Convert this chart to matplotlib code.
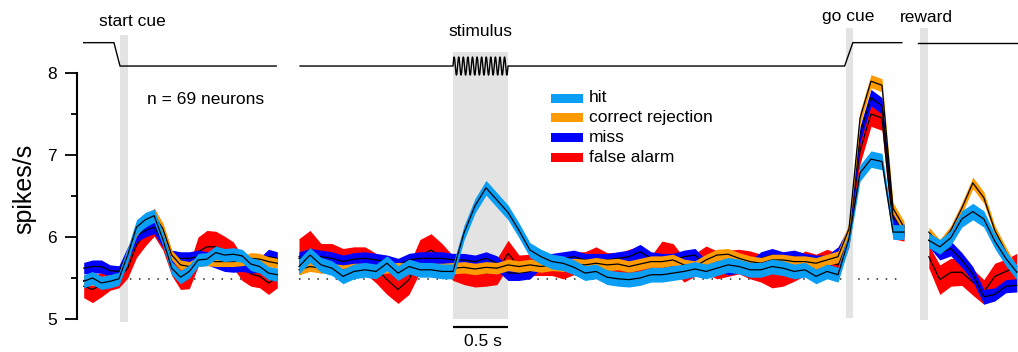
import numpy as np
import matplotlib.pyplot as plt
from matplotlib.patches import Rectangle

plt.rcParams['font.family'] = ['Liberation Sans', 'DejaVu Sans']

# ---- data: population mean firing rate (spikes/s) and SEM by trial outcome ----
# three alignments: start cue, stimulus onset (runs on past the go cue), reward
t_start = np.linspace(-0.33, 1.43, 23)
t_stim = np.linspace(-1.4, 4.1, 56)
t_reward = np.linspace(0.08, 0.88, 9)
stim_dur = 0.5
go_cue_t = 3.6
baseline = 5.49
n_neurons = 69

outcomes = ["hit", "correct rejection", "miss", "false alarm"]
colors = ["#0a9ef5", "#ff9a00", "#0000ff", "#ff0000"]

hit_start = [5.46, 5.50, 5.44, 5.46, 5.49, 5.78, 6.12, 6.21, 6.26, 5.97, 5.62, 5.51,
             5.58, 5.72, 5.73, 5.81, 5.78, 5.79, 5.77, 5.67, 5.64, 5.56, 5.54]
cr_start = [5.47, 5.47, 5.46, 5.48, 5.50, 5.80, 6.08, 6.22, 6.27, 6.10, 5.78, 5.66,
            5.64, 5.70, 5.71, 5.70, 5.70, 5.70, 5.71, 5.74, 5.73, 5.70, 5.68]
miss_start = [5.62, 5.64, 5.64, 5.59, 5.58, 5.80, 6.02, 6.08, 6.12, 5.96, 5.76, 5.74,
              5.74, 5.76, 5.74, 5.70, 5.66, 5.65, 5.66, 5.64, 5.66, 5.76, 5.74]
fa_start = [5.40, 5.36, 5.42, 5.48, 5.50, 5.62, 5.90, 6.05, 6.18, 6.00, 5.68, 5.50,
            5.52, 5.82, 5.88, 5.88, 5.84, 5.78, 5.62, 5.55, 5.52, 5.44, 5.50]

hit_start_sem = [0.08, 0.08, 0.08, 0.08, 0.08, 0.09, 0.09, 0.09, 0.08, 0.08, 0.08, 0.08,
                 0.08, 0.08, 0.08, 0.08, 0.08, 0.08, 0.08, 0.08, 0.08, 0.08, 0.08]
cr_start_sem = [0.06, 0.06, 0.06, 0.06, 0.06, 0.07, 0.07, 0.07, 0.07, 0.07, 0.06, 0.06,
                0.06, 0.06, 0.06, 0.06, 0.06, 0.06, 0.06, 0.07, 0.07, 0.06, 0.06]
miss_start_sem = [0.07, 0.08, 0.08, 0.07, 0.07, 0.08, 0.08, 0.08, 0.08, 0.08, 0.08, 0.08,
                  0.08, 0.08, 0.08, 0.08, 0.08, 0.08, 0.08, 0.08, 0.09, 0.09, 0.08]
fa_start_sem = [0.14, 0.16, 0.15, 0.13, 0.12, 0.12, 0.15, 0.16, 0.17, 0.16, 0.15, 0.14,
                0.15, 0.18, 0.20, 0.19, 0.17, 0.16, 0.15, 0.15, 0.14, 0.14, 0.12]

hit_stim = [5.64, 5.78, 5.66, 5.62, 5.52, 5.58, 5.60, 5.58, 5.68, 5.56,
            5.64, 5.60, 5.60, 5.58, 5.58, 6.05, 6.38, 6.60, 6.45, 6.30,
            6.08, 5.84, 5.76, 5.70, 5.68, 5.63, 5.56, 5.58, 5.51, 5.49,
            5.48, 5.50, 5.54, 5.54, 5.56, 5.58, 5.61, 5.58, 5.62, 5.66,
            5.64, 5.60, 5.60, 5.64, 5.62, 5.58, 5.60, 5.52, 5.58, 5.54,
            5.98, 6.78, 6.95, 6.92, 6.06, 6.06]
cr_stim = [5.60, 5.64, 5.62, 5.62, 5.60, 5.62, 5.62, 5.60, 5.62, 5.63,
           5.62, 5.61, 5.62, 5.62, 5.62, 5.63, 5.61, 5.63, 5.62, 5.66,
           5.64, 5.66, 5.64, 5.66, 5.65, 5.67, 5.66, 5.68, 5.66, 5.67,
           5.64, 5.67, 5.70, 5.70, 5.72, 5.66, 5.64, 5.72, 5.78, 5.79,
           5.74, 5.70, 5.68, 5.72, 5.72, 5.70, 5.70, 5.68, 5.72, 5.76,
           6.10, 7.45, 7.90, 7.85, 6.35, 6.12]
miss_stim = [5.74, 5.78, 5.76, 5.74, 5.70, 5.73, 5.74, 5.72, 5.70, 5.66,
             5.72, 5.74, 5.74, 5.74, 5.72, 5.72, 5.70, 5.74, 5.68, 5.56,
             5.56, 5.58, 5.70, 5.72, 5.74, 5.76, 5.72, 5.72, 5.72, 5.74,
             5.76, 5.82, 5.74, 5.72, 5.72, 5.76, 5.78, 5.64, 5.66, 5.62,
             5.64, 5.64, 5.74, 5.78, 5.74, 5.76, 5.72, 5.70, 5.70, 5.80,
             6.05, 7.25, 7.70, 7.60, 6.25, 6.08]
fa_stim = [5.76, 5.84, 5.74, 5.76, 5.72, 5.74, 5.72, 5.62, 5.48, 5.36,
           5.48, 5.77, 5.84, 5.76, 5.62, 5.58, 5.56, 5.56, 5.58, 5.80,
           5.64, 5.66, 5.66, 5.66, 5.62, 5.68, 5.66, 5.72, 5.66, 5.66,
           5.70, 5.72, 5.62, 5.78, 5.76, 5.60, 5.66, 5.72, 5.66, 5.68,
           5.70, 5.66, 5.62, 5.56, 5.56, 5.60, 5.68, 5.62, 5.70, 5.66,
           6.00, 7.05, 7.50, 7.45, 6.10, 6.05]

hit_stim_sem = [0.09, 0.09, 0.09, 0.09, 0.09, 0.09, 0.09, 0.09, 0.09, 0.09,
                0.09, 0.09, 0.09, 0.09, 0.09, 0.09, 0.09, 0.09, 0.09, 0.09,
                0.09, 0.09, 0.09, 0.09, 0.09, 0.09, 0.09, 0.09, 0.09, 0.09,
                0.09, 0.09, 0.09, 0.09, 0.09, 0.09, 0.09, 0.09, 0.09, 0.09,
                0.09, 0.09, 0.09, 0.09, 0.09, 0.09, 0.09, 0.09, 0.09, 0.09,
                0.09, 0.10, 0.10, 0.10, 0.09, 0.09]
cr_stim_sem = [0.06, 0.06, 0.06, 0.06, 0.06, 0.06, 0.06, 0.06, 0.06, 0.06,
               0.06, 0.06, 0.06, 0.06, 0.07, 0.07, 0.07, 0.07, 0.07, 0.07,
               0.07, 0.07, 0.07, 0.07, 0.07, 0.07, 0.07, 0.07, 0.07, 0.07,
               0.07, 0.07, 0.07, 0.07, 0.07, 0.07, 0.07, 0.07, 0.07, 0.07,
               0.07, 0.07, 0.07, 0.07, 0.07, 0.07, 0.07, 0.07, 0.07, 0.07,
               0.07, 0.08, 0.08, 0.08, 0.07, 0.07]
miss_stim_sem = [0.08, 0.08, 0.08, 0.08, 0.08, 0.08, 0.08, 0.08, 0.08, 0.08,
                 0.08, 0.08, 0.08, 0.08, 0.08, 0.08, 0.08, 0.08, 0.09, 0.09,
                 0.09, 0.09, 0.08, 0.08, 0.08, 0.08, 0.08, 0.08, 0.08, 0.08,
                 0.08, 0.09, 0.08, 0.08, 0.08, 0.08, 0.08, 0.08, 0.08, 0.08,
                 0.08, 0.08, 0.08, 0.08, 0.08, 0.08, 0.08, 0.08, 0.08, 0.08,
                 0.08, 0.10, 0.10, 0.10, 0.09, 0.08]
fa_stim_sem = [0.22, 0.24, 0.18, 0.16, 0.14, 0.14, 0.16, 0.18, 0.18, 0.17,
               0.18, 0.20, 0.20, 0.16, 0.15, 0.16, 0.17, 0.16, 0.16, 0.16,
               0.14, 0.13, 0.13, 0.13, 0.13, 0.14, 0.16, 0.16, 0.15, 0.14,
               0.15, 0.17, 0.15, 0.17, 0.16, 0.15, 0.14, 0.17, 0.17, 0.16,
               0.15, 0.17, 0.17, 0.18, 0.16, 0.14, 0.15, 0.17, 0.15, 0.14,
               0.12, 0.16, 0.15, 0.15, 0.12, 0.10]

hit_reward = [5.96, 5.88, 5.99, 6.22, 6.31, 6.22, 5.95, 5.74, 5.57]
cr_reward = [6.06, 5.91, 6.08, 6.35, 6.66, 6.48, 6.08, 5.82, 5.58]
miss_reward = [5.96, 5.80, 5.86, 5.72, 5.55, 5.27, 5.30, 5.40, 5.41]
fa_reward = [5.76, 5.48, 5.57, 5.57, 5.45, 5.33, 5.52, 5.58, 5.64]

hit_reward_sem = [0.09, 0.09, 0.09, 0.10, 0.10, 0.10, 0.09, 0.09, 0.09]
cr_reward_sem = [0.06, 0.06, 0.06, 0.07, 0.07, 0.07, 0.06, 0.06, 0.06]
miss_reward_sem = [0.08, 0.08, 0.09, 0.09, 0.09, 0.09, 0.08, 0.08, 0.08]
fa_reward_sem = [0.14, 0.18, 0.17, 0.16, 0.16, 0.15, 0.16, 0.15, 0.16]

segments = [
    (t_start, [hit_start, cr_start, miss_start, fa_start],
     [hit_start_sem, cr_start_sem, miss_start_sem, fa_start_sem]),
    (t_stim, [hit_stim, cr_stim, miss_stim, fa_stim],
     [hit_stim_sem, cr_stim_sem, miss_stim_sem, fa_stim_sem]),
    (t_reward, [hit_reward, cr_reward, miss_reward, fa_reward],
     [hit_reward_sem, cr_reward_sem, miss_reward_sem, fa_reward_sem]),
]

# ---- layout (pixel geometry of the panel) ----
W, H = 1018, 352
PX_PER_S = 110.0
PX_PER_UNIT = 82.0
offsets = [120 / PX_PER_S, 453 / PX_PER_S, 920 / PX_PER_S]


def frac(px, py):
    return px / W, 1 - py / H


fig = plt.figure(figsize=(W / 100, H / 100), dpi=100)
ax = fig.add_axes([0, 0, 1, 1])
ax.set_xlim(0, W / PX_PER_S)
ax.set_ylim(5 - (H - 319) / PX_PER_UNIT, 8 + 73 / PX_PER_UNIT)

# event markers (gray bars)
gray = "#e3e3e3"
ax.axvspan(offsets[0], offsets[0] + 0.07, 1 - 322 / H, 1 - 35 / H, color=gray, lw=0, zorder=1)
ax.axvspan(offsets[1], offsets[1] + stim_dur, 1 - 319 / H, 1 - 52 / H, color=gray, lw=0, zorder=1)
ax.axvspan(offsets[1] + go_cue_t - 0.03, offsets[1] + go_cue_t + 0.04, 1 - 318 / H, 1 - 28 / H,
           color=gray, lw=0, zorder=1)
ax.axvspan(offsets[2], offsets[2] + 0.07, 1 - 320 / H, 1 - 28 / H, color=gray, lw=0, zorder=1)

# dotted baseline
dot = dict(color="#222222", lw=1.1, ls=(0, (1, 5)), zorder=0.5)
ax.plot([offsets[0] + t_start[0], offsets[0] + t_start[-1]], [baseline] * 2, **dot)
ax.plot([offsets[1] + t_stim[0], offsets[1] + t_stim[-1]], [baseline] * 2, **dot)
ax.plot([offsets[2] + 0.05, offsets[2] + 0.12], [baseline] * 2, **dot)

# traces: false alarm first, hit last; each band gets its own mean line
for (t, means, sems), off in zip(segments, offsets):
    for i in [3, 2, 1, 0]:
        m = np.array(means[i])
        s = np.array(sems[i])
        z = 2 + 2 * (3 - i)
        ax.fill_between(t + off, m - s, m + s, color=colors[i], lw=0, zorder=z)
        ax.plot(t + off, m, color="black", lw=0.9, zorder=z + 1)

# task event trace on top
lo, hi = 8.085, 8.37
ev = dict(color="black", lw=1.0, zorder=10)
ax.plot(offsets[0] + np.array([t_start[0], -0.055, 0.0, t_start[-1] - 0.01]), [hi, hi, lo, lo], **ev)
ts = np.linspace(0, stim_dur, 600)
wave = lo + 0.11 * np.sin(2 * np.pi * 24 * ts)
x2 = np.concatenate([[t_stim[0] + 0.01], ts, [go_cue_t - 0.04, go_cue_t + 0.035, t_stim[-1] - 0.02]])
y2 = np.concatenate([[lo], wave, [lo, hi, hi]])
ax.plot(offsets[1] + x2, y2, **ev)
ax.plot([offsets[2] - 0.02, W / PX_PER_S], [hi, hi], **ev)

# labels
fs = 12.5
ax.text(*frac(132, 22), "start cue", transform=ax.transAxes, ha="center", va="center", fontsize=fs)
ax.text(*frac(480, 32), "stimulus", transform=ax.transAxes, ha="center", va="center", fontsize=fs)
ax.text(*frac(848, 17), "go cue", transform=ax.transAxes, ha="center", va="center", fontsize=fs)
ax.text(*frac(926, 17), "reward", transform=ax.transAxes, ha="center", va="center", fontsize=fs)
ax.text(*frac(206, 99), "n = %d neurons" % n_neurons, transform=ax.transAxes,
        ha="center", va="center", fontsize=fs)
ax.text(*frac(24, 189), "spikes/s", transform=ax.transAxes, rotation=90,
        ha="center", va="center", fontsize=18)

# legend
for i, (name, c) in enumerate(zip(outcomes, colors)):
    cy = 98 + 19.7 * i
    ax.add_patch(Rectangle(frac(551, cy + 4.5), 32 / W, 9 / H, transform=ax.transAxes,
                           color=c, lw=0, zorder=12))
    ax.text(*frac(589, cy), name, transform=ax.transAxes, ha="left", va="center", fontsize=fs)

# time scale bar
ybar = 8 - (327 - 73) / PX_PER_UNIT
ax.plot([offsets[1], offsets[1] + 0.5], [ybar, ybar], color="black", lw=1.6, solid_capstyle="butt")
ax.text(*frac(483, 342), "0.5 s", transform=ax.transAxes, ha="center", va="center", fontsize=fs)

# y axis
for side in ["top", "right", "bottom"]:
    ax.spines[side].set_visible(False)
ax.spines["left"].set_position(("data", 77 / PX_PER_S))
ax.spines["left"].set_bounds(5, 8)
ax.spines["left"].set_linewidth(1.5)
ax.set_xticks([])
ax.set_yticks([5, 6, 7, 8])
ax.set_yticks([5.5, 6.5, 7.5], minor=True)
ax.tick_params(axis="y", which="major", length=8.5, width=1.3, labelsize=fs, pad=6)
ax.tick_params(axis="y", which="minor", length=4, width=1.3)
ax.patch.set_visible(False)

fig.savefig("out.png", dpi=100)
